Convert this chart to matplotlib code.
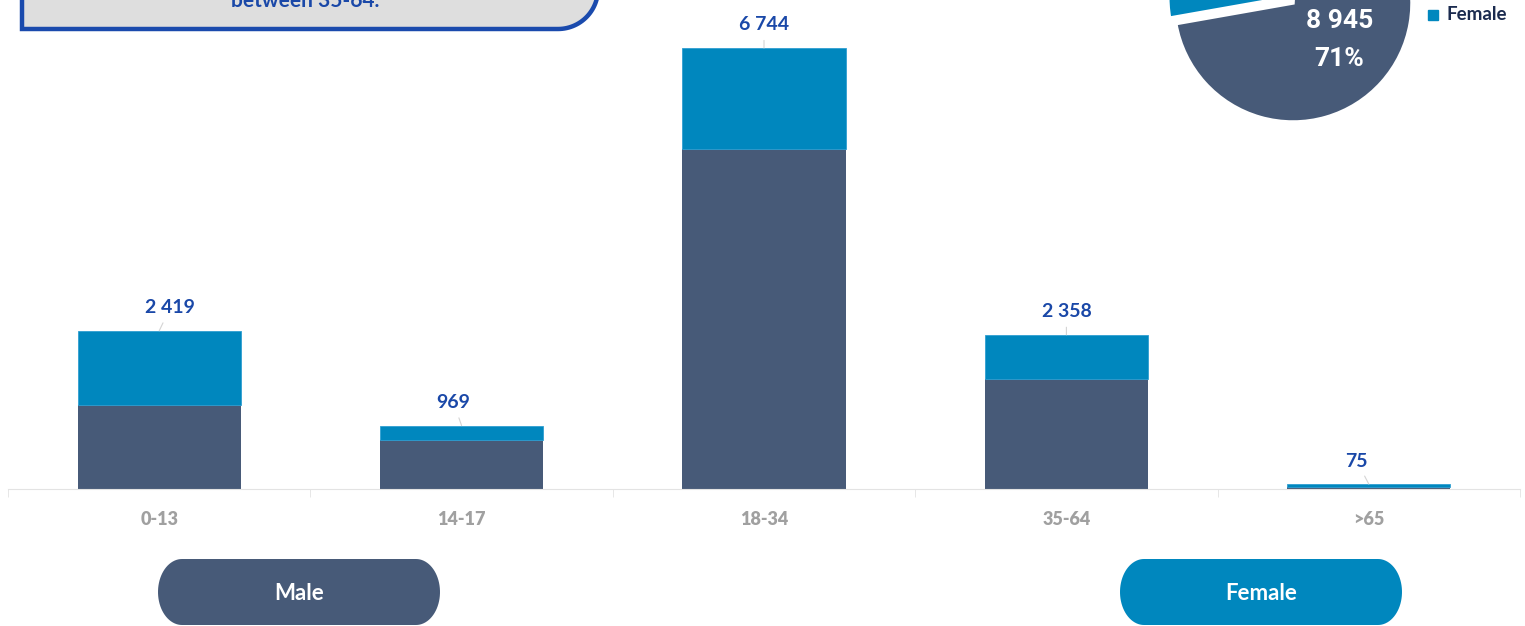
import numpy as np
import matplotlib.pyplot as plt
from matplotlib.patches import Polygon, Rectangle

# data
categories = ["0-13", "14-17", "18-34", "35-64", ">65"]
male = [1285, 749, 5199, 1682, 30]
female = [1134, 220, 1545, 676, 45]
genders = ["Male", "Female"]
note_text = "between 35-64."

# label nudges in pixels (style only)
label_dx = [11, -8, 0, 0, -12]

MALE_C = "#475a78"
FEMALE_C = "#0087be"
LABEL_C = "#1a48a8"
GRAY_TXT = "#a0a0a0"
AXIS_C = "#e3e3e3"

plt.rcParams['font.family'] = ['Lato', 'DejaVu Sans']

W, H = 1525, 626
fig = plt.figure(figsize=(W / 100, H / 100), dpi=100)


def fx(px):
    return px / W


def fy(py):
    return 1 - py / H


def fmt(v):
    return f"{v:,}".replace(",", " ")


# stacked bars
ax = fig.add_axes([fx(8), fy(489), 1512 / W, 489 / H])
x = np.arange(len(categories))
totals = [m + f for m, f in zip(male, female)]
ax.bar(x, male, width=0.54, color=MALE_C, zorder=2)
ax.bar(x, female, bottom=male, width=0.54, color=FEMALE_C,
       edgecolor="#2f9fd2", linewidth=0.6, zorder=2)
ax.set_xlim(-0.5, 4.5)
ax.set_ylim(0, 7478)

for i, t in enumerate(totals):
    ax.annotate(fmt(t), xy=(i, t), xytext=(label_dx[i], 23),
                textcoords="offset pixels", ha="center", va="center",
                color=LABEL_C, fontsize=14, fontweight="bold",
                arrowprops=dict(arrowstyle="-", color="#d4d4d4", lw=0.8,
                                shrinkA=3, shrinkB=0))

for s in ["top", "left", "right"]:
    ax.spines[s].set_visible(False)
ax.spines["bottom"].set_color(AXIS_C)
ax.set_yticks([])
ax.set_xticks(x)
ax.set_xticklabels(categories, fontweight="heavy", fontsize=13, color=GRAY_TXT)
ax.set_xticks(np.arange(-0.5, 5, 1), minor=True)
ax.tick_params(axis="x", which="major", length=0, pad=16)
ax.tick_params(axis="x", which="minor", length=6, color=AXIS_C)

# pie, cut by the top edge
r = 119
cx, cy = 1293, 3
s = 1.3
pax = fig.add_axes([fx(cx - r * s), fy(cy + r * s), 2 * r * s / W, 2 * r * s / H])
male_sum, female_sum = sum(male), sum(female)
pax.pie([male_sum, female_sum], colors=[MALE_C, FEMALE_C], startangle=190,
        explode=[0, 0.07], wedgeprops=dict(edgecolor="white", linewidth=2.5))
pax.set_xlim(-s, s)
pax.set_ylim(-s, s)
pax.set_aspect("equal")
pct = round(100 * male_sum / (male_sum + female_sum))
pax.text(0.39, -0.15, fmt(male_sum), ha="center", va="center", color="white",
         fontsize=19, fontweight="bold", family=["Roboto", "DejaVu Sans"])
pax.text(0.39, -0.47, f"{pct}%", ha="center", va="center", color="white",
         fontsize=19, fontweight="bold", family=["Roboto", "DejaVu Sans"])

# overlay in pixel coordinates
ov = fig.add_axes([0, 0, 1, 1], zorder=5)
ov.set_xlim(0, W)
ov.set_ylim(H, 0)
ov.axis("off")
ov.patch.set_alpha(0)

# note box (bottom part only)
rad = 40
t = np.linspace(0, np.pi / 2, 30)
arc = np.column_stack([598 - rad + rad * np.sin(t), 29 - rad + rad * np.cos(t)])
pts = np.vstack([[[22, -60], [22, 29]], arc, [[598, -60]]])
ov.add_patch(Polygon(pts, closed=True, facecolor="#dedede",
                     edgecolor="#1a4aad", linewidth=3.2))
ov.text(305, 7, note_text, ha="center", va="baseline", color=LABEL_C,
        fontsize=15, fontweight="bold")

# legend (male entry falls above the canvas)
for j, (g, c) in enumerate(zip(genders, [MALE_C, FEMALE_C])):
    ly = 15 - 26 * (1 - j)
    ov.add_patch(Rectangle((1428, ly - 5), 10, 10, color=c))
    ov.text(1446, ly, g, ha="left", va="center", color="#1b2b4f",
            fontsize=13.5, fontweight="bold")

# pill buttons with half-ellipse ends
rx, ry = 24, 33
ang = np.linspace(np.pi / 2, 3 * np.pi / 2, 40)
for g, c, px in zip(genders, [MALE_C, FEMALE_C], [158, 1120]):
    mid = 559 + ry
    left = np.column_stack([px + rx + rx * np.cos(ang), mid - ry * np.sin(ang)])
    right = np.column_stack([px + 282 - rx - rx * np.cos(ang), mid + ry * np.sin(ang)])
    ov.add_patch(Polygon(np.vstack([left, right]), closed=True,
                         facecolor=c, edgecolor="none"))
    ov.text(px + 141, 594, g, ha="center", va="center", color="white",
            fontsize=16, fontweight="bold")

fig.savefig("out.png", dpi=100)
